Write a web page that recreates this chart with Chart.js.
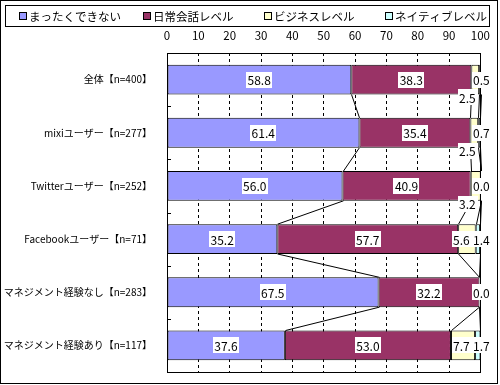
<!DOCTYPE html>
<html>
<head>
<meta charset="utf-8">
<script src="https://cdn.jsdelivr.net/npm/chart.js@4"></script>
<style>
  body { margin: 0; background: #fff; }
  #wrap { width: 500px; height: 385px; }
</style>
</head>
<body>
<div id="wrap"><canvas id="langChart"></canvas></div>
<script>
const categories = ['全体【n=400】', 'mixiユーザー【n=277】', 'Twitterユーザー【n=252】',
  'Facebookユーザー【n=71】', 'マネジメント経験なし【n=283】', 'マネジメント経験あり【n=117】'];
const seriesNames = ['まったくできない', '日常会話レベル', 'ビジネスレベル', 'ネイティブレベル'];
const cannot = [58.8, 61.4, 56.0, 35.2, 67.5, 37.6];
const daily = [38.3, 35.4, 40.9, 57.7, 32.2, 53.0];
const business = [2.5, 2.5, 3.2, 5.6, null, 7.7];
const native = [0.5, 0.7, 0.0, 1.4, 0.0, 1.7];
const xTicks = [0, 10, 20, 30, 40, 50, 60, 70, 80, 90, 100];

const colors = ['#9999FF', '#993366', '#FFFFCC', '#CCFFFF'];
const FONT = '"Noto Sans CJK JP", sans-serif';

// frame, legend box, plot border, series lines, data labels
const excelLook = {
  id: 'excelLook',
  beforeDraw(chart) {
    const ctx = chart.ctx;
    ctx.save();
    ctx.fillStyle = '#fff';
    ctx.fillRect(0, 0, chart.width, chart.height);
    ctx.restore();
  },
  afterDatasetsDraw(chart) {
    const ctx = chart.ctx;
    const a = chart.chartArea;
    const xs = chart.scales.x;
    ctx.save();
    ctx.strokeStyle = '#000';
    ctx.lineWidth = 1;

    // series lines between bars
    const metas = [0, 1, 2, 3].map(i => chart.getDatasetMeta(i));
    for (let c = 0; c < categories.length - 1; c++) {
      let cum1 = 0, cum2 = 0;
      for (let s = 0; s < 4; s++) {
        const d = chart.data.datasets[s].data;
        cum1 += d[c] || 0;
        cum2 += d[c + 1] || 0;
        if (s === 2 && (d[c] === null || d[c + 1] === null)) continue;
        const b1 = metas[0].data[c], b2 = metas[0].data[c + 1];
        ctx.beginPath();
        ctx.moveTo(Math.round(xs.getPixelForValue(cum1)) + 0.5, b1.y + b1.height / 2);
        ctx.lineTo(Math.round(xs.getPixelForValue(cum2)) + 0.5, b2.y - b2.height / 2);
        ctx.stroke();
      }
    }

    // plot border + small ticks on the category axis
    ctx.strokeRect(Math.round(a.left) + 0.5, Math.round(a.top) + 0.5,
      Math.round(a.right - a.left), Math.round(a.bottom - a.top));
    const band = (a.bottom - a.top) / categories.length;
    for (let c = 1; c < categories.length; c++) {
      const y = Math.round(a.top + band * c) + 0.5;
      ctx.beginPath();
      ctx.moveTo(a.left, y);
      ctx.lineTo(a.left + 4, y);
      ctx.stroke();
    }

    // data labels
    ctx.font = '12px ' + FONT;
    ctx.textAlign = 'center';
    ctx.textBaseline = 'middle';
    const drawLabel = (txt, x, y) => {
      const w = ctx.measureText(txt).width + 3;
      ctx.fillStyle = '#fff';
      ctx.fillRect(Math.round(x - w / 2), Math.round(y - 8), Math.round(w), 16);
      ctx.fillStyle = '#000';
      ctx.fillText(txt, x, y + 1);
    };
    const xEnd = xs.getPixelForValue(100);
    for (let c = 0; c < categories.length; c++) {
      let cum = 0;
      const bar = metas[0].data[c];
      const yMid = bar.y;
      const yBot = bar.y + bar.height / 2;
      for (let s = 0; s < 4; s++) {
        const v = chart.data.datasets[s].data[c];
        if (v === null) continue;
        const x0 = xs.getPixelForValue(cum);
        cum += v;
        const x1 = xs.getPixelForValue(cum);
        const txt = v.toFixed(1);
        if (s < 2) {
          drawLabel(txt, (x0 + x1) / 2, yMid);
        } else if (s === 2) {
          if (v >= 5) drawLabel(txt, Math.min((x0 + x1) / 2, xEnd - 19), yMid);
          else drawLabel(txt, xEnd - 13, yBot + 3);
        } else {
          drawLabel(txt, xEnd + 1, yMid);
        }
      }
    }
    ctx.restore();
  },
  afterDraw(chart) {
    const ctx = chart.ctx;
    ctx.save();
    ctx.strokeStyle = '#000';
    ctx.lineWidth = 1;
    ctx.strokeRect(0.5, 0.5, 497, 383);
    // legend
    ctx.strokeRect(5.5, 5.5, 484, 21);
    const itemX = [19, 143, 264, 385];
    ctx.font = '11.5px ' + FONT;
    ctx.textBaseline = 'middle';
    ctx.textAlign = 'left';
    seriesNames.forEach((n, i) => {
      ctx.fillStyle = colors[i];
      ctx.fillRect(itemX[i], 12, 8, 8);
      ctx.strokeRect(itemX[i] + 0.5, 12.5, 7, 7);
      ctx.fillStyle = '#000';
      ctx.fillText(n, itemX[i] + 10, 16.5);
    });
    ctx.restore();
  }
};

new Chart(document.getElementById('langChart'), {
  type: 'bar',
  data: {
    labels: categories,
    datasets: [cannot, daily, business, native].map((d, i) => ({
      label: seriesNames[i],
      data: d,
      backgroundColor: colors[i],
      borderColor: '#000',
      borderWidth: 1,
      borderSkipped: false,
      barPercentage: 0.56,
      categoryPercentage: 1
    }))
  },
  options: {
    indexAxis: 'y',
    responsive: true,
    maintainAspectRatio: false,
    animation: false,
    layout: { padding: { left: 0, top: 28, right: 16, bottom: 7 } },
    plugins: {
      legend: { display: false },
      tooltip: { enabled: false }
    },
    scales: {
      x: {
        position: 'top',
        stacked: true,
        min: 0,
        max: 100,
        afterBuildTicks(scale) { scale.ticks = xTicks.map(v => ({ value: v })); },
        afterFit(scale) { scale.height = 25; },
        ticks: { color: '#000', font: { family: FONT, size: 11.5 }, padding: 10 },
        grid: { color: '#000', drawTicks: false, lineWidth: 1 },
        border: { display: false, dash: [3, 3] }
      },
      y: {
        stacked: true,
        afterFit(scale) { scale.width = 167; },
        ticks: { color: '#000', font: { family: FONT, size: 10 }, padding: 7 },
        grid: { display: false },
        border: { display: false }
      }
    }
  },
  plugins: [excelLook]
});
</script>
</body>
</html>
